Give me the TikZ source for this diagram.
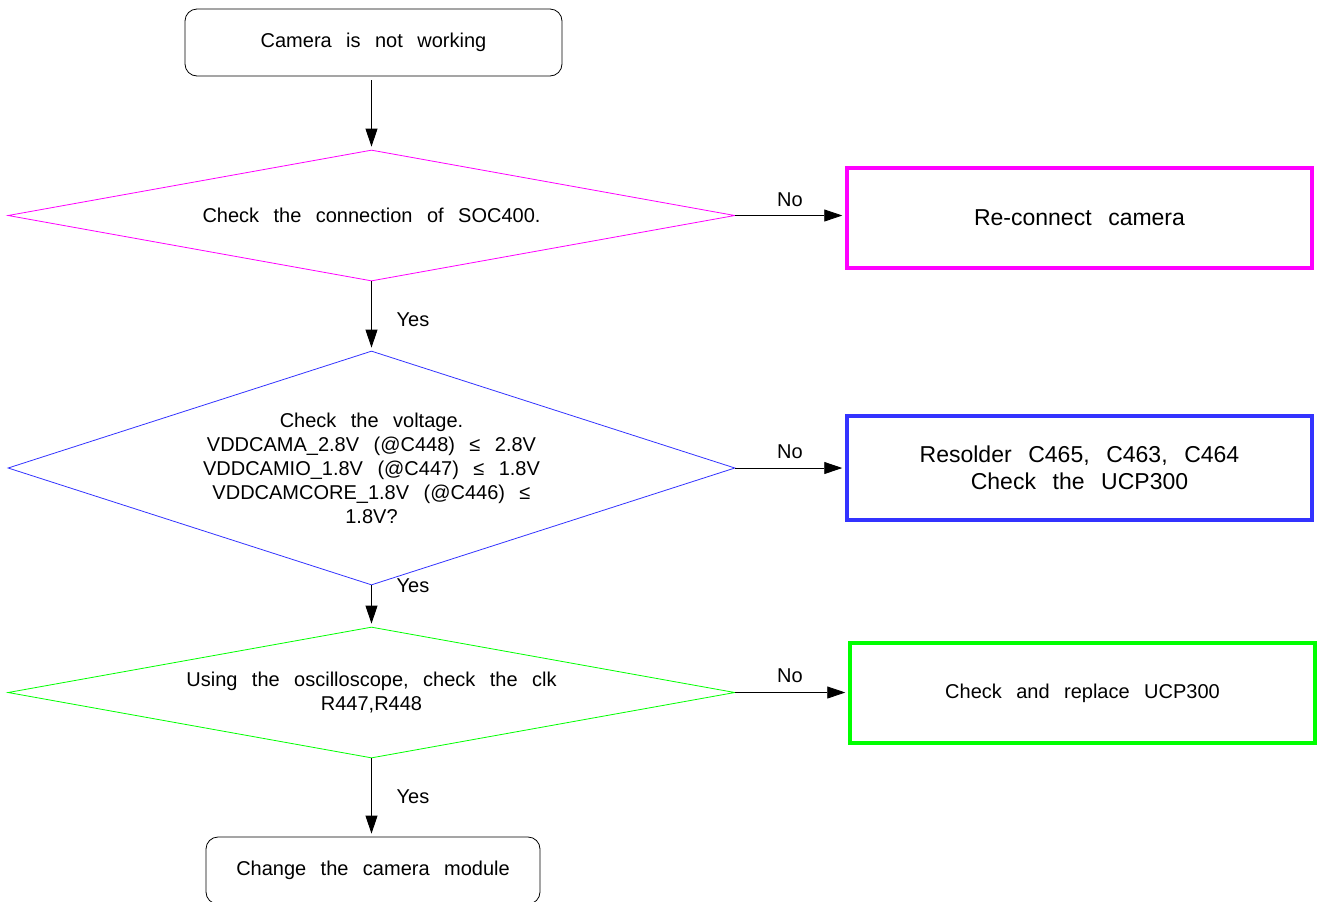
\documentclass[tikz,border=0pt]{standalone}
\usepackage{fontspec}
\setmainfont{Liberation Sans}[WordSpace=2.6]
\usetikzlibrary{shapes.geometric,arrows.meta}
\definecolor{chkmag}{RGB}{255,0,255}
\definecolor{chkblue}{RGB}{51,51,255}
\definecolor{chkgreen}{RGB}{0,255,0}
\begin{document}
\begin{tikzpicture}[x=0.5pt, y=-0.5pt,
        terminal/.style={rectangle, draw, rounded corners=6pt, minimum width=#1, minimum height=33.5pt, text centered, font=\fontsize{10}{12}\selectfont},
        decision/.style={diamond, draw=#1, inner sep=0pt, aspect=5.55, minimum width=363.5pt, minimum height=65.5pt, align=center, font=\fontsize{10}{12}\selectfont},
        action/.style={rectangle, draw=#1, line width=1.75pt, minimum width=232.5pt, minimum height=50pt, align=center, font=\fontsize{11.5}{13.5}\selectfont},
        lbl/.style={inner sep=0pt, font=\fontsize{10}{12}\selectfont},
        arrow/.style={-{Triangle[length=9pt, width=6pt]}, shorten >=1.5pt}
    ]
        \useasboundingbox (0,0) rectangle (1317,901);

        \node[terminal=188.5pt] (start) at (373.5,42.5) {Camera is not working};
        \node[decision=chkmag] (conn) at (371.5,215.5) {Check the connection of SOC400.};
        \node[action=chkmag] (reconn) at (1079.5,218) {Re-connect camera};
        \node[decision=chkblue, aspect=3.107, minimum height=117pt] (volt) at (371.5,468) {Check the voltage.\\ VDDCAMA\_2.8V (@C448) ≤ 2.8V\\ VDDCAMIO\_1.8V (@C447) ≤ 1.8V\\ VDDCAMCORE\_1.8V (@C446) ≤\\ 1.8V?};
        \node[action=chkblue, minimum height=52pt] (resolder) at (1079.5,468) {Resolder C465, C463, C464\\ Check the UCP300};
        \node[decision=chkgreen] (clk) at (371.5,692.5) {Using the oscilloscope, check the clk\\ R447,R448};
        \node[action=chkgreen, font=\fontsize{10}{12}\selectfont] (ucp) at (1082.5,693) {Check and replace UCP300};
        \node[terminal=167pt] (module) at (373,870.5) {Change the camera module};

        \node[lbl] (no1) at (790,200) {No};
        \node[lbl] (no2) at (790,452) {No};
        \node[lbl] (no3) at (790,676) {No};
        \node[lbl] (yes1) at (413,320) {Yes};
        \node[lbl] (yes2) at (413,586) {Yes};
        \node[lbl] (yes3) at (413,797) {Yes};

        \draw[arrow, shorten <=2pt] (start.south -| conn.north) -- (conn.north);
        \draw[arrow] (conn.east) -- (reconn.west |- conn.east);
        \draw[arrow] (conn.south) -- (volt.north);
        \draw[arrow] (volt.east) -- (resolder.west |- volt.east);
        \draw[arrow] (volt.south) -- (clk.north);
        \draw[arrow] (clk.east) -- (ucp.west |- clk.east);
        \draw[arrow] (clk.south) -- (module.north -| clk.south);
    \end{tikzpicture}
\end{document}
